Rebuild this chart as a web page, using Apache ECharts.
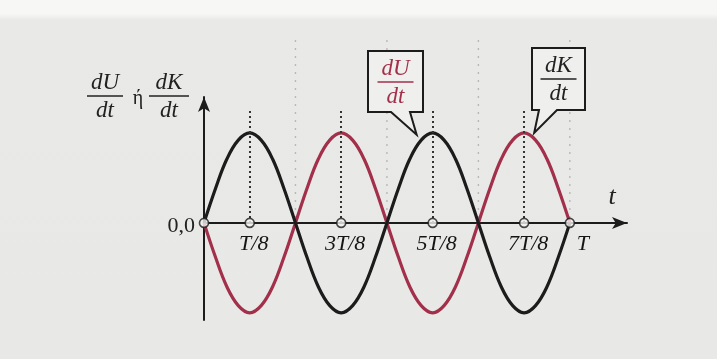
<!DOCTYPE html>
<html>
<head>
<meta charset="utf-8">
<script src="https://cdn.jsdelivr.net/npm/echarts@6/dist/echarts.min.js"></script>
<style>
html,body{margin:0;padding:0;}
body{width:717px;height:359px;overflow:hidden;
background:linear-gradient(to bottom,#f7f7f6 0px,#f7f7f6 14px,#e9e9e7 20px,#e8e8e6 100%);}
#c{width:717px;height:359px;}
</style>
</head>
<body>
<div id="c"></div>
<script>
// time in units of T/8
const tValues = [0,0.25,0.5,0.75,1,1.25,1.5,1.75,2,2.25,2.5,2.75,3,3.25,3.5,3.75,4,4.25,4.5,4.75,5,5.25,5.5,5.75,6,6.25,6.5,6.75,7,7.25,7.5,7.75,8];
// black curve (amplitude-normalised)
const blackValues = [0,0.38,0.71,0.92,1,0.92,0.71,0.38,0,-0.38,-0.71,-0.92,-1,-0.92,-0.71,-0.38,0,0.38,0.71,0.92,1,0.92,0.71,0.38,0,-0.38,-0.71,-0.92,-1,-0.92,-0.71,-0.38,0];
// red curve
const redValues = [0,-0.38,-0.71,-0.92,-1,-0.92,-0.71,-0.38,0,0.38,0.71,0.92,1,0.92,0.71,0.38,0,-0.38,-0.71,-0.92,-1,-0.92,-0.71,-0.38,0,0.38,0.71,0.92,1,0.92,0.71,0.38,0];
// tick positions and labels
const tickPos = [1,3,5,7,8];
const tickLabels = ['T/8','3T/8','5T/8','7T/8','T'];
const markerPos = [0,1,3,5,7,8];
const guideTop = [1.25,1.25,1.25,1.27];
const guidePos = [1,3,5,7];
const faintGuides = [2,4,6,8];

const RED = '#a3304a';
const INK = '#1c1c1c';
const SERIF = '"Liberation Serif","DejaVu Serif",serif';

const chart = echarts.init(document.getElementById('c'), null, {renderer:'canvas'});

const blackData = tValues.map((t,i)=>[t,blackValues[i]]);
const redData = tValues.map((t,i)=>[t,redValues[i]]);

const option = {
  backgroundColor:'transparent',
  animation:false,
  grid:{left:204, right:90, top:97, bottom:39, containLabel:false},
  xAxis:{
    type:'value', min:0, max:9.25,
    splitLine:{show:false},
    axisLine:{show:true, onZero:true, symbol:['none','arrow'], symbolSize:[9,15], lineStyle:{color:INK, width:2}},
    axisTick:{show:false},
    axisLabel:{show:false}
  },
  yAxis:{
    type:'value', min:-1.08, max:1.4,
    splitLine:{show:false},
    axisLine:{show:true, onZero:true, symbol:['none','arrow'], symbolSize:[9,15], lineStyle:{color:INK, width:2}},
    axisTick:{show:false},
    axisLabel:{show:false}
  },
  series:[
    {
      type:'line', name:'red', data:redData, smooth:0.4, showSymbol:false,
      lineStyle:{color:RED, width:3.2}, z:3
    },
    {
      type:'line', name:'black', data:blackData, smooth:0.4, showSymbol:false,
      lineStyle:{color:INK, width:3.2}, z:4,
      markLine:{
        silent:true, symbol:['none','none'], label:{show:false},
        lineStyle:{color:'#333', type:[2,3], width:2},
        data: guidePos.map((x,i)=>[{coord:[x,0]},{coord:[x,guideTop[i]]}])
      }
    },
    {
      type:'scatter', data:markerPos.map(x=>[x,0]), symbol:'circle', symbolSize:9,
      itemStyle:{color:'#f2f2f0', borderColor:INK, borderWidth:1.6}, z:6
    },
    {
      type:'scatter', data:tickPos.map((x,i)=>({value:[x,0], label:{offset: x===8 ? [13,0] : [4,0]}})),
      symbolSize:0, itemStyle:{color:'#000', opacity:1}, silent:true, z:7,
      label:{show:true, position:'bottom', distance:10, opacity:1,
        formatter:function(p){ return tickLabels[tickPos.indexOf(p.value[0])]; },
        fontFamily:SERIF, fontStyle:'italic', fontSize:22, color:'#151515'}
    }
  ]
};
chart.setOption(option);

function px(x,y){ return chart.convertToPixel({gridIndex:0},[x,y]); }

function frac(cx, top, num, den, color, size, lineW){
  const els = [];
  els.push({type:'text', style:{text:num, x:cx, y:top, align:'center', verticalAlign:'top', fill:color,
    font:'italic '+size+'px '+SERIF}});
  els.push({type:'line', shape:{x1:cx-lineW/2, y1:top+size+2, x2:cx+lineW/2, y2:top+size+2},
    style:{stroke:color, lineWidth:1.6}});
  els.push({type:'text', style:{text:den, x:cx, y:top+size+5, align:'center', verticalAlign:'top', fill:color,
    font:'italic '+size+'px '+SERIF}});
  return els;
}

const o = px(0,0);
const g = [];

// faint scan guide lines
faintGuides.forEach(x=>{
  const p = px(x,0);
  g.push({type:'line', z:1, shape:{x1:p[0], y1:40, x2:p[0], y2:p[1]-4},
    style:{stroke:'#8a8a8a', lineWidth:1.4, lineDash:[2,6], opacity:0.5}});
});

// origin label
g.push({type:'text', z:10, style:{text:'0,0', x:o[0]-9, y:o[1]+3, align:'right', verticalAlign:'middle',
  fill:'#222', font:'22px '+SERIF}});
// t label
const tEnd = px(9.25,0);
g.push({type:'text', z:10, style:{text:'t', x:tEnd[0]-15, y:o[1]-26, align:'center', verticalAlign:'middle',
  fill:'#222', font:'italic 26px '+SERIF}});

// y axis title: dU/dt ή dK/dt
const yTop = px(0,1.4);
frac(105, yTop[1]-26, 'dU', 'dt', '#222', 23, 36).forEach(e=>{e.z=10; g.push(e);});
g.push({type:'text', z:10, style:{text:'ή', x:138, y:yTop[1]+2, align:'center', verticalAlign:'middle',
  fill:'#222', font:'20px '+SERIF}});
frac(169, yTop[1]-26, 'dK', 'dt', '#222', 23, 40).forEach(e=>{e.z=10; g.push(e);});

// callout boxes
function callout(tipData, box, tailL, tailR, num, den, color){
  const tip = px(tipData[0], tipData[1]);
  const [x0,y0,x1,y1] = box;
  g.push({type:'polygon', z:8, shape:{points:[[x0,y0],[x1,y0],[x1,y1],[tailR,y1],[tip[0],tip[1]],[tailL,y1],[x0,y1]]},
    style:{fill:'#efefed', stroke:INK, lineWidth:2}});
  frac((x0+x1)/2, y0+6, num, den, color, 23, 36).forEach(e=>{e.z=9; g.push(e);});
}
callout([4.65,0.98], [368,51,423,112], 391, 410, 'dU', 'dt', RED);
callout([7.22,1.0], [532,48,585,110], 539, 557, 'dK', 'dt', '#222');

chart.setOption({graphic:g});
</script>
</body>
</html>
